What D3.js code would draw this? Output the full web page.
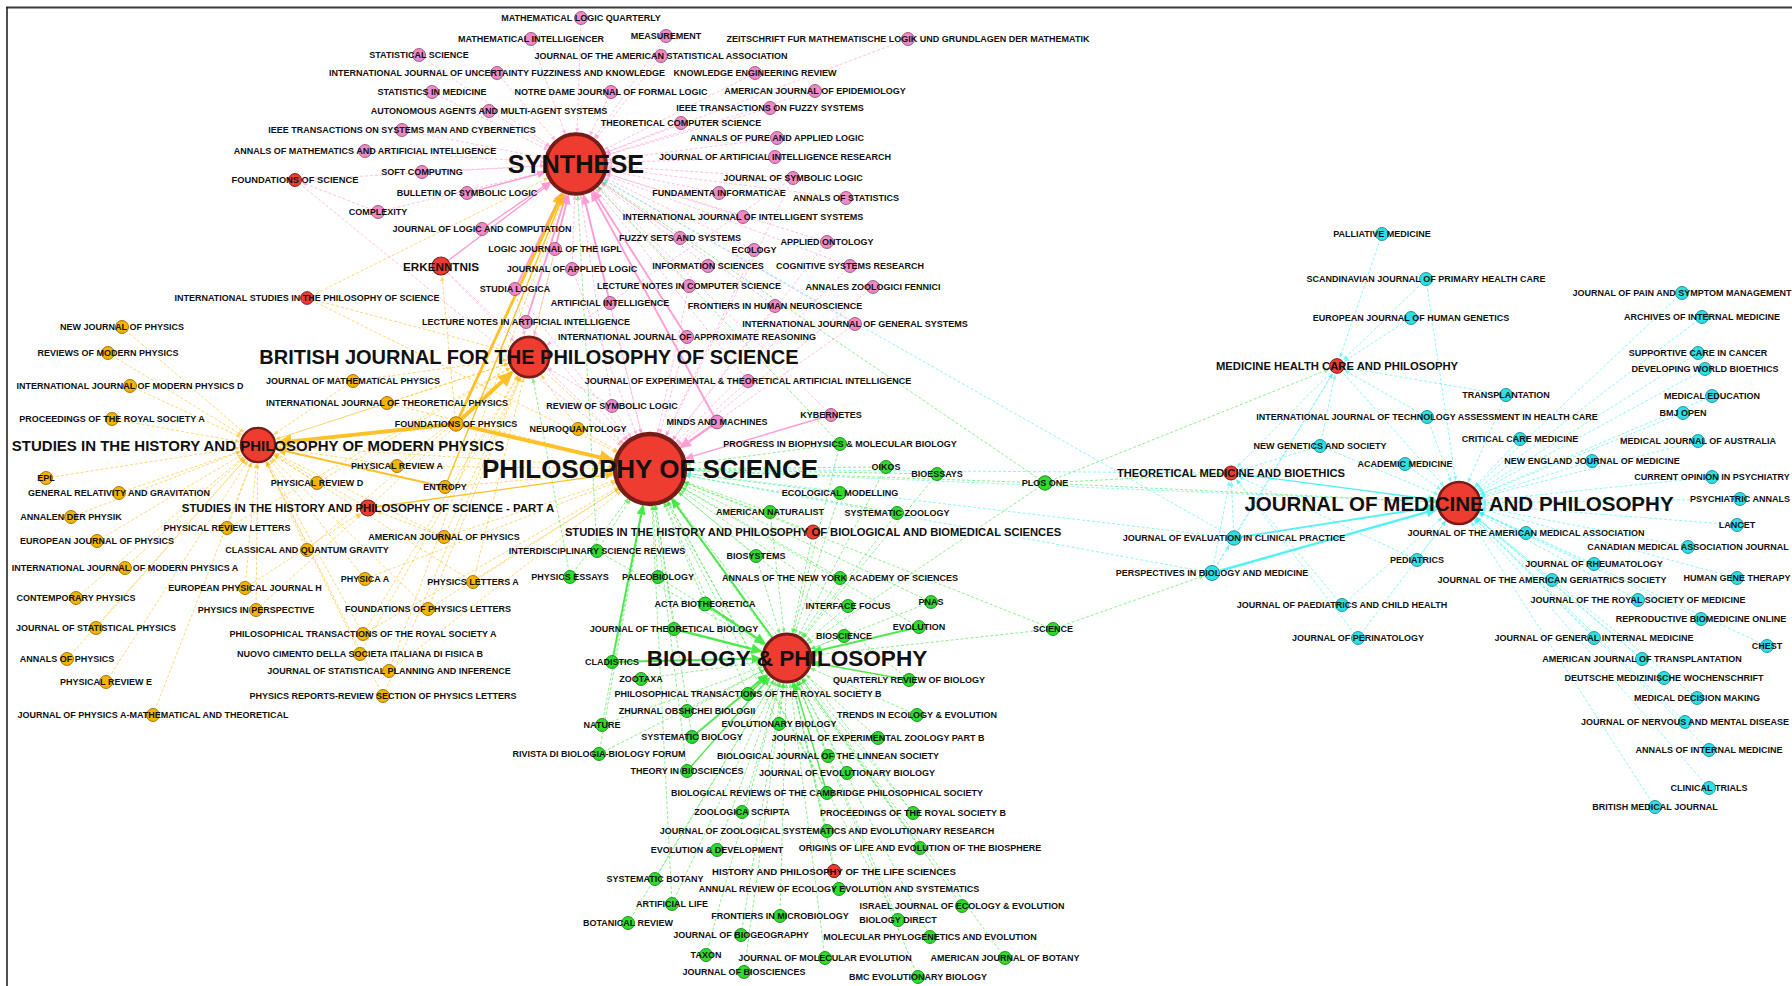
<!DOCTYPE html>
<html>
<head>
<meta charset="utf-8">
<script src="https://cdn.jsdelivr.net/npm/d3@7"></script>
<style>
  body { margin: 0; background: #fff; }
  text { font-family: "Liberation Sans", Arial, sans-serif; font-weight: bold; fill: #111; }
</style>
</head>
<body>
<div id="container"></div>
<script>

var W = 1792, H = 986;

//  hub journals : id, label, edge colour cluster, layout x, layout y, weight
var hubJournals = [
    ["PoS", "PHILOSOPHY OF SCIENCE", "physics", 650, 469, 100],
    ["SYN", "SYNTHESE", "logic", 576, 164, 73],
    ["BP", "BIOLOGY & PHILOSOPHY", "biology", 787, 658, 47],
    ["JMP", "JOURNAL OF MEDICINE AND PHILOSOPHY", "medicine", 1459, 503, 36],
    ["BJPS", "BRITISH JOURNAL FOR THE PHILOSOPHY OF SCIENCE", "physics", 529, 357, 33],
    ["SHPMP", "STUDIES IN THE HISTORY AND PHILOSOPHY OF MODERN PHYSICS", "physics", 258, 445, 24],
    ["ERK", "ERKENNTNIS", "logic", 441, 266, 6.6],
    ["SHPSA", "STUDIES IN THE HISTORY AND PHILOSOPHY OF SCIENCE - PART A", "physics", 368, 508, 5.2],
    ["FOS", "FOUNDATIONS OF SCIENCE", "logic", 295, 180, 3.4],
    ["ISPS", "INTERNATIONAL STUDIES IN THE PHILOSOPHY OF SCIENCE", "physics", 307, 298, 3.3],
    ["MHCP", "MEDICINE HEALTH CARE AND PHILOSOPHY", "medicine", 1337, 366, 4.4],
    ["TMB", "THEORETICAL MEDICINE AND BIOETHICS", "medicine", 1231, 473, 4],
    ["SHPBBS", "STUDIES IN THE HISTORY AND PHILOSOPHY OF BIOLOGICAL AND BIOMEDICAL SCIENCES", "biology", 813, 532, 4],
    ["HPLS", "HISTORY AND PHILOSOPHY OF THE LIFE SCIENCES", "biology", 834, 871, 3.5]
];

//  citing journals : label, layout x, layout y, cited journals (weight 1), optional node weight
var logicJournals = [
    ["MATHEMATICAL LOGIC QUARTERLY", 581, 18, ["SYN"]],
    ["MATHEMATICAL INTELLIGENCER", 531, 39, ["SYN"]],
    ["MEASUREMENT", 666, 36, ["SYN"]],
    ["ZEITSCHRIFT FUR MATHEMATISCHE LOGIK UND GRUNDLAGEN DER MATHEMATIK", 908, 39, ["SYN"]],
    ["STATISTICAL SCIENCE", 419, 55, ["SYN"]],
    ["JOURNAL OF THE AMERICAN STATISTICAL ASSOCIATION", 661, 56, ["SYN"]],
    ["INTERNATIONAL JOURNAL OF UNCERTAINTY FUZZINESS AND KNOWLEDGE", 497, 73, ["SYN"]],
    ["KNOWLEDGE ENGINEERING REVIEW", 755, 73, ["SYN"]],
    ["STATISTICS IN MEDICINE", 432, 92, ["SYN"]],
    ["NOTRE DAME JOURNAL OF FORMAL LOGIC", 611, 92, ["SYN"]],
    ["AMERICAN JOURNAL OF EPIDEMIOLOGY", 815, 91, ["SYN"]],
    ["AUTONOMOUS AGENTS AND MULTI-AGENT SYSTEMS", 489, 111, ["SYN"]],
    ["IEEE TRANSACTIONS ON FUZZY SYSTEMS", 770, 108, ["SYN"]],
    ["THEORETICAL COMPUTER SCIENCE", 681, 123, ["SYN"]],
    ["IEEE TRANSACTIONS ON SYSTEMS MAN AND CYBERNETICS", 402, 130, ["SYN"]],
    ["ANNALS OF PURE AND APPLIED LOGIC", 777, 138, ["SYN"]],
    ["ANNALS OF MATHEMATICS AND ARTIFICIAL INTELLIGENCE", 365, 151, ["SYN"]],
    ["JOURNAL OF ARTIFICIAL INTELLIGENCE RESEARCH", 775, 157, ["SYN"]],
    ["SOFT COMPUTING", 422, 172, ["SYN"]],
    ["JOURNAL OF SYMBOLIC LOGIC", 793, 178, ["SYN", "PoS", "BJPS"]],
    ["BULLETIN OF SYMBOLIC LOGIC", 467, 193, []],
    ["FUNDAMENTA INFORMATICAE", 719, 193, ["SYN"]],
    ["ANNALS OF STATISTICS", 846, 198, ["SYN"]],
    ["COMPLEXITY", 378, 212, ["SYN", "FOS"]],
    ["INTERNATIONAL JOURNAL OF INTELLIGENT SYSTEMS", 743, 217, ["SYN"]],
    ["JOURNAL OF LOGIC AND COMPUTATION", 482, 229, []],
    ["FUZZY SETS AND SYSTEMS", 680, 238, ["SYN"]],
    ["APPLIED ONTOLOGY", 827, 242, ["SYN", "PoS"]],
    ["LOGIC JOURNAL OF THE IGPL", 555, 249, ["BJPS"]],
    ["ECOLOGY", 754, 250, ["SYN", "PoS"]],
    ["JOURNAL OF APPLIED LOGIC", 572, 269, ["SYN", "PoS"]],
    ["INFORMATION SCIENCES", 708, 266, ["SYN"]],
    ["COGNITIVE SYSTEMS RESEARCH", 850, 266, ["SYN", "PoS"]],
    ["LECTURE NOTES IN COMPUTER SCIENCE", 689, 286, ["SYN", "PoS"]],
    ["ANNALES ZOOLOGICI FENNICI", 873, 287, ["PoS"]],
    ["STUDIA LOGICA", 515, 289, ["BJPS", "PoS"]],
    ["ARTIFICIAL INTELLIGENCE", 610, 303, ["PoS"]],
    ["FRONTIERS IN HUMAN NEUROSCIENCE", 775, 306, ["SYN", "PoS"]],
    ["LECTURE NOTES IN ARTIFICIAL INTELLIGENCE", 526, 322, ["PoS"]],
    ["INTERNATIONAL JOURNAL OF GENERAL SYSTEMS", 855, 324, ["SYN", "PoS"]],
    ["INTERNATIONAL JOURNAL OF APPROXIMATE REASONING", 687, 337, ["PoS"]],
    ["JOURNAL OF EXPERIMENTAL & THEORETICAL ARTIFICIAL INTELLIGENCE", 748, 381, ["SYN", "PoS"]],
    ["REVIEW OF SYMBOLIC LOGIC", 612, 406, ["SYN", "PoS", "BJPS"]],
    ["KYBERNETES", 831, 415, ["SYN"]],
    ["MINDS AND MACHINES", 717, 422, [], 3.8]
];

var physicsJournals = [
    ["NEW JOURNAL OF PHYSICS", 122, 327, ["SHPMP"]],
    ["REVIEWS OF MODERN PHYSICS", 108, 353, ["SHPMP"]],
    ["JOURNAL OF MATHEMATICAL PHYSICS", 353, 381, ["SHPMP", "BJPS"]],
    ["INTERNATIONAL JOURNAL OF MODERN PHYSICS D", 130, 386, ["SHPMP"]],
    ["INTERNATIONAL JOURNAL OF THEORETICAL PHYSICS", 387, 403, ["SHPMP", "BJPS", "PoS"]],
    ["PROCEEDINGS OF THE ROYAL SOCIETY A", 112, 419, ["SHPMP"]],
    ["FOUNDATIONS OF PHYSICS", 456, 424, ["ERK"], 4.2],
    ["NEUROQUANTOLOGY", 578, 429, ["PoS", "BJPS"]],
    ["PHYSICAL REVIEW A", 397, 466, ["SHPMP", "PoS", "BJPS"]],
    ["EPL", 46, 478, ["SHPMP"]],
    ["PHYSICAL REVIEW D", 317, 483, ["SHPMP", "BJPS"]],
    ["ENTROPY", 445, 487, ["PoS"]],
    ["GENERAL RELATIVITY AND GRAVITATION", 119, 493, ["SHPMP"]],
    ["ANNALEN DER PHYSIK", 71, 517, ["SHPMP"]],
    ["PHYSICAL REVIEW LETTERS", 227, 528, ["SHPMP", "BJPS"]],
    ["AMERICAN JOURNAL OF PHYSICS", 444, 537, ["SHPMP", "SHPSA", "PoS", "BJPS"]],
    ["EUROPEAN JOURNAL OF PHYSICS", 97, 541, ["SHPMP"]],
    ["CLASSICAL AND QUANTUM GRAVITY", 307, 550, ["SHPMP", "BJPS"]],
    ["INTERNATIONAL JOURNAL OF MODERN PHYSICS A", 125, 568, ["SHPMP"]],
    ["PHYSICA A", 365, 579, ["SHPMP", "PoS"]],
    ["PHYSICS LETTERS A", 473, 582, ["SHPMP", "BJPS", "PoS"]],
    ["EUROPEAN PHYSICAL JOURNAL H", 245, 588, ["SHPMP", "SHPSA"]],
    ["CONTEMPORARY PHYSICS", 76, 598, ["SHPMP"]],
    ["FOUNDATIONS OF PHYSICS LETTERS", 428, 609, ["SHPMP", "BJPS", "PoS"]],
    ["PHYSICS IN PERSPECTIVE", 256, 610, ["SHPMP", "SHPSA"]],
    ["JOURNAL OF STATISTICAL PHYSICS", 96, 628, ["SHPMP"]],
    ["PHILOSOPHICAL TRANSACTIONS OF THE ROYAL SOCIETY A", 363, 634, ["SHPMP", "BJPS", "PoS"]],
    ["NUOVO CIMENTO DELLA SOCIETA ITALIANA DI FISICA B", 360, 654, ["SHPMP", "BJPS"]],
    ["ANNALS OF PHYSICS", 67, 659, ["SHPMP"]],
    ["JOURNAL OF STATISTICAL PLANNING AND INFERENCE", 389, 671, ["PoS", "SYN"]],
    ["PHYSICAL REVIEW E", 106, 682, ["SHPMP"]],
    ["PHYSICS REPORTS-REVIEW SECTION OF PHYSICS LETTERS", 383, 696, ["SHPMP", "BJPS"]],
    ["JOURNAL OF PHYSICS A-MATHEMATICAL AND THEORETICAL", 153, 715, ["SHPMP"]]
];

var biologyJournals = [
    ["PROGRESS IN BIOPHYSICS & MOLECULAR BIOLOGY", 840, 444, ["PoS", "BP", "SYN"]],
    ["OIKOS", 886, 467, ["PoS", "BP"]],
    ["BIOESSAYS", 937, 474, ["PoS", "BP"]],
    ["PLOS ONE", 1045, 483, ["PoS", "BP", "SYN", "JMP", "MHCP", "TMB"], 4.2],
    ["ECOLOGICAL MODELLING", 840, 493, ["PoS", "BP"]],
    ["AMERICAN NATURALIST", 770, 512, ["PoS", "BP"]],
    ["SYSTEMATIC ZOOLOGY", 897, 513, ["PoS", "BP"]],
    ["INTERDISCIPLINARY SCIENCE REVIEWS", 597, 551, ["PoS", "BP", "SYN"]],
    ["BIOSYSTEMS", 756, 556, ["PoS", "BP"]],
    ["PHYSICS ESSAYS", 570, 577, ["PoS", "BJPS"]],
    ["PALEOBIOLOGY", 658, 577, ["PoS", "BP"]],
    ["ANNALS OF THE NEW YORK ACADEMY OF SCIENCES", 840, 578, ["PoS", "BP"]],
    ["PNAS", 931, 602, ["PoS", "BP"]],
    ["ACTA BIOTHEORETICA", 705, 604, ["PoS"], 3.8],
    ["INTERFACE FOCUS", 848, 606, ["PoS", "BP"]],
    ["EVOLUTION", 919, 627, []],
    ["JOURNAL OF THEORETICAL BIOLOGY", 674, 629, ["PoS"]],
    ["SCIENCE", 1053, 629, ["BP", "PoS", "PERSPECTIVES IN BIOLOGY AND MEDICINE"]],
    ["BIOSCIENCE", 844, 636, ["BP"]],
    ["CLADISTICS", 612, 662, []],
    ["ZOOTAXA", 641, 679, ["BP"]],
    ["QUARTERLY REVIEW OF BIOLOGY", 909, 680, ["PoS"]],
    ["PHILOSOPHICAL TRANSACTIONS OF THE ROYAL SOCIETY B", 748, 694, ["PoS"]],
    ["ZHURNAL OBSHCHEI BIOLOGII", 687, 711, ["BP"]],
    ["TRENDS IN ECOLOGY & EVOLUTION", 917, 715, ["BP"]],
    ["EVOLUTIONARY BIOLOGY", 779, 724, ["BP", "PoS"]],
    ["NATURE", 602, 725, ["BP", "PoS"]],
    ["SYSTEMATIC BIOLOGY", 692, 737, ["PoS"]],
    ["JOURNAL OF EXPERIMENTAL ZOOLOGY PART B", 878, 738, ["BP"]],
    ["RIVISTA DI BIOLOGIA-BIOLOGY FORUM", 599, 754, ["BP", "PoS"]],
    ["BIOLOGICAL JOURNAL OF THE LINNEAN SOCIETY", 828, 756, ["BP"]],
    ["THEORY IN BIOSCIENCES", 687, 771, ["PoS"]],
    ["JOURNAL OF EVOLUTIONARY BIOLOGY", 847, 773, ["BP"]],
    ["BIOLOGICAL REVIEWS OF THE CAMBRIDGE PHILOSOPHICAL SOCIETY", 827, 793, ["PoS"]],
    ["ZOOLOGICA SCRIPTA", 742, 812, ["BP"]],
    ["PROCEEDINGS OF THE ROYAL SOCIETY B", 913, 813, ["BP", "PoS"]],
    ["JOURNAL OF ZOOLOGICAL SYSTEMATICS AND EVOLUTIONARY RESEARCH", 827, 831, ["BP"]],
    ["EVOLUTION & DEVELOPMENT", 717, 850, ["BP"]],
    ["ORIGINS OF LIFE AND EVOLUTION OF THE BIOSPHERE", 920, 848, ["BP", "PoS"]],
    ["SYSTEMATIC BOTANY", 655, 879, ["BP"]],
    ["ANNUAL REVIEW OF ECOLOGY EVOLUTION AND SYSTEMATICS", 839, 889, ["BP"]],
    ["ARTIFICIAL LIFE", 672, 904, ["BP", "PoS"]],
    ["ISRAEL JOURNAL OF ECOLOGY & EVOLUTION", 962, 906, ["BP"]],
    ["FRONTIERS IN MICROBIOLOGY", 780, 916, ["BP"]],
    ["BIOLOGY DIRECT", 898, 920, ["BP", "PoS"]],
    ["BOTANICAL REVIEW", 628, 923, ["BP"]],
    ["JOURNAL OF BIOGEOGRAPHY", 741, 935, ["BP"]],
    ["MOLECULAR PHYLOGENETICS AND EVOLUTION", 930, 937, ["BP"]],
    ["TAXON", 706, 955, ["BP"]],
    ["JOURNAL OF MOLECULAR EVOLUTION", 825, 958, ["BP"]],
    ["AMERICAN JOURNAL OF BOTANY", 1005, 958, ["BP"]],
    ["JOURNAL OF BIOSCIENCES", 744, 972, ["BP"]],
    ["BMC EVOLUTIONARY BIOLOGY", 918, 977, ["BP"]]
];

var medicineJournals = [
    ["PALLIATIVE MEDICINE", 1382, 234, ["MHCP"]],
    ["SCANDINAVIAN JOURNAL OF PRIMARY HEALTH CARE", 1426, 279, ["MHCP", "JMP"]],
    ["JOURNAL OF PAIN AND SYMPTOM MANAGEMENT", 1682, 293, ["JMP"]],
    ["ARCHIVES OF INTERNAL MEDICINE", 1702, 317, ["JMP"]],
    ["EUROPEAN JOURNAL OF HUMAN GENETICS", 1411, 318, ["MHCP"]],
    ["SUPPORTIVE CARE IN CANCER", 1698, 353, ["JMP"]],
    ["DEVELOPING WORLD BIOETHICS", 1705, 369, ["JMP"]],
    ["TRANSPLANTATION", 1506, 395, ["JMP", "MHCP"]],
    ["MEDICAL EDUCATION", 1712, 396, ["JMP"]],
    ["BMJ OPEN", 1683, 413, ["JMP"]],
    ["INTERNATIONAL JOURNAL OF TECHNOLOGY ASSESSMENT IN HEALTH CARE", 1427, 417, ["JMP", "MHCP"]],
    ["CRITICAL CARE MEDICINE", 1520, 439, ["JMP"]],
    ["MEDICAL JOURNAL OF AUSTRALIA", 1698, 441, ["JMP"]],
    ["NEW GENETICS AND SOCIETY", 1320, 446, ["JMP", "TMB", "MHCP"]],
    ["NEW ENGLAND JOURNAL OF MEDICINE", 1592, 461, ["JMP"]],
    ["ACADEMIC MEDICINE", 1405, 464, ["JMP"]],
    ["CURRENT OPINION IN PSYCHIATRY", 1712, 477, ["JMP"]],
    ["PSYCHIATRIC ANNALS", 1740, 499, ["JMP"]],
    ["LANCET", 1737, 525, ["JMP"]],
    ["JOURNAL OF THE AMERICAN MEDICAL ASSOCIATION", 1526, 533, ["JMP"]],
    ["JOURNAL OF EVALUATION IN CLINICAL PRACTICE", 1234, 538, ["TMB", "MHCP", "PoS", "SYN"], 4.2],
    ["CANADIAN MEDICAL ASSOCIATION JOURNAL", 1688, 547, ["JMP"]],
    ["PEDIATRICS", 1417, 560, ["JMP", "TMB"]],
    ["JOURNAL OF RHEUMATOLOGY", 1594, 564, ["JMP"]],
    ["PERSPECTIVES IN BIOLOGY AND MEDICINE", 1212, 573, ["TMB", "PoS", "MHCP", "JOURNAL OF EVALUATION IN CLINICAL PRACTICE"], 4.6],
    ["HUMAN GENE THERAPY", 1737, 578, ["JMP"]],
    ["JOURNAL OF THE AMERICAN GERIATRICS SOCIETY", 1552, 580, ["JMP"]],
    ["JOURNAL OF THE ROYAL SOCIETY OF MEDICINE", 1638, 600, ["JMP"]],
    ["JOURNAL OF PAEDIATRICS AND CHILD HEALTH", 1342, 605, ["JMP", "TMB"]],
    ["REPRODUCTIVE BIOMEDICINE ONLINE", 1701, 619, ["JMP"]],
    ["JOURNAL OF PERINATOLOGY", 1358, 638, ["JMP", "TMB"]],
    ["JOURNAL OF GENERAL INTERNAL MEDICINE", 1594, 638, ["JMP"]],
    ["CHEST", 1767, 646, ["JMP"]],
    ["AMERICAN JOURNAL OF TRANSPLANTATION", 1642, 659, ["JMP"]],
    ["DEUTSCHE MEDIZINISCHE WOCHENSCHRIFT", 1664, 678, ["JMP"]],
    ["MEDICAL DECISION MAKING", 1697, 698, ["JMP"]],
    ["JOURNAL OF NERVOUS AND MENTAL DISEASE", 1685, 722, ["JMP"]],
    ["ANNALS OF INTERNAL MEDICINE", 1709, 750, ["JMP"]],
    ["CLINICAL TRIALS", 1709, 788, ["JMP"]],
    ["BRITISH MEDICAL JOURNAL", 1655, 807, ["JMP"]]
];

//  weighted citation links : source, target, weight
var strongLinks = [
    ["FOUNDATIONS OF PHYSICS", "SHPMP", 4],
    ["FOUNDATIONS OF PHYSICS", "BJPS", 4],
    ["FOUNDATIONS OF PHYSICS", "PoS", 4],
    ["FOUNDATIONS OF PHYSICS", "SYN", 3],
    ["ENTROPY", "SHPMP", 2],
    ["ENTROPY", "SYN", 1.5],
    ["SHPSA", "PoS", 1.5],
    ["SHPSA", "SHPMP", 1],
    ["SHPSA", "BJPS", 1],
    ["SHPMP", "BJPS", 1],
    ["SHPMP", "PoS", 1],
    ["BJPS", "PoS", 1],
    ["BJPS", "SYN", 1],
    ["SYN", "PoS", 1],
    ["ISPS", "BJPS", 1],
    ["ISPS", "PoS", 1],
    ["ISPS", "SYN", 1],
    ["ERK", "SYN", 1.5],
    ["ERK", "BJPS", 1],
    ["ERK", "PoS", 1],
    ["FOS", "SYN", 1],
    ["FOS", "PoS", 1],
    ["MINDS AND MACHINES", "PoS", 2.5],
    ["MINDS AND MACHINES", "SYN", 2],
    ["KYBERNETES", "PoS", 1.5],
    ["STUDIA LOGICA", "SYN", 2],
    ["LOGIC JOURNAL OF THE IGPL", "SYN", 2],
    ["LECTURE NOTES IN ARTIFICIAL INTELLIGENCE", "SYN", 2],
    ["ARTIFICIAL INTELLIGENCE", "SYN", 2],
    ["INTERNATIONAL JOURNAL OF APPROXIMATE REASONING", "SYN", 2],
    ["JOURNAL OF LOGIC AND COMPUTATION", "SYN", 1.5],
    ["BULLETIN OF SYMBOLIC LOGIC", "SYN", 1.5],
    ["ACTA BIOTHEORETICA", "BP", 2.5],
    ["JOURNAL OF THEORETICAL BIOLOGY", "BP", 2.5],
    ["CLADISTICS", "BP", 2],
    ["CLADISTICS", "PoS", 2],
    ["PHILOSOPHICAL TRANSACTIONS OF THE ROYAL SOCIETY B", "BP", 2],
    ["SYSTEMATIC BIOLOGY", "BP", 2],
    ["THEORY IN BIOSCIENCES", "BP", 1.5],
    ["BIOLOGICAL REVIEWS OF THE CAMBRIDGE PHILOSOPHICAL SOCIETY", "BP", 1.5],
    ["QUARTERLY REVIEW OF BIOLOGY", "BP", 1.5],
    ["EVOLUTION", "BP", 2],
    ["EVOLUTION", "PoS", 1],
    ["BP", "PoS", 2],
    ["SHPBBS", "BP", 1],
    ["SHPBBS", "PoS", 1],
    ["HPLS", "BP", 1],
    ["PERSPECTIVES IN BIOLOGY AND MEDICINE", "JMP", 2.5],
    ["JOURNAL OF EVALUATION IN CLINICAL PRACTICE", "JMP", 2],
    ["MHCP", "JMP", 1],
    ["MHCP", "TMB", 1],
    ["TMB", "JMP", 1.5],
    ["TMB", "PoS", 1],
    ["JMP", "PoS", 1]
];

var clusterFill = {logic: "#f08ac6", physics: "#f5b400", biology: "#2ddc2d", medicine: "#2ee0e6"};
var clusterEdge = {logic: "#ff93cf", physics: "#ffba12", biology: "#3ae63a", medicine: "#3ff0f2"};
var hubFill = "#ee3c30";
var hubStroke = "#781c18";
var smallWeight = 3.4;

var x = d3.scaleLinear().domain([0, 1792]).range([0, W]);
var y = d3.scaleLinear().domain([0, 986]).range([0, H]);
var radius = d3.scaleSqrt().domain([0, 100]).range([0, 35]);
var hubFont = d3.scaleLinear()
    .domain([3.3, 4, 24, 33, 60, 100])
    .range([9, 11.2, 15, 20, 25, 26])
    .clamp(true);

//  build node table
var nodes = [];
var byId = {};

hubJournals.forEach(function(d) {
    var n = {id: d[0], name: d[1], cluster: d[2], hub: true, lx: d[3], ly: d[4], w: d[5], cites: []};
    nodes.push(n);
    byId[n.id] = n;
});

[[logicJournals, "logic"], [physicsJournals, "physics"], [biologyJournals, "biology"], [medicineJournals, "medicine"]].forEach(function(g) {
    g[0].forEach(function(d) {
        var n = {id: d[0], name: d[0], cluster: g[1], hub: false, lx: d[1], ly: d[2], w: d[4] || smallWeight, cites: d[3]};
        nodes.push(n);
        byId[n.id] = n;
    });
});

var links = [];
nodes.forEach(function(n) {
    n.cites.forEach(function(t) {
        links.push({source: n, target: byId[t], w: 1});
    });
});
strongLinks.forEach(function(d) {
    links.push({source: byId[d[0]], target: byId[d[1]], w: d[2]});
});
links.sort(function(a, b) { return a.w - b.w; });

var svg = d3.select("#container")
    .append("svg")
    .attr("width", W)
    .attr("height", H)
    .style("display", "block");

svg.append("rect").attr("width", W).attr("height", H).attr("fill", "#fff");

//  frame lines (the picture is cropped on the right and bottom)
svg.append("line").attr("x1", 6).attr("x2", W).attr("y1", 7.5).attr("y2", 7.5)
    .attr("stroke", "#3a3a3a").attr("stroke-width", 2);
svg.append("line").attr("x1", 7).attr("x2", 7).attr("y1", 7).attr("y2", H)
    .attr("stroke", "#222").attr("stroke-width", 1.6);

var edgeG = svg.append("g");

links.forEach(function(l) {

    var sx = x(l.source.lx), sy = y(l.source.ly);
    var tx = x(l.target.lx), ty = y(l.target.ly);
    var dx = tx - sx, dy = ty - sy;
    var len = Math.sqrt(dx * dx + dy * dy);
    var ux = dx / len, uy = dy / len;
    var rt = radius(l.target.w) + 1;
    var ex = tx - ux * rt, ey = ty - uy * rt;

    var col = clusterEdge[l.source.cluster];
    var thin = l.w < 1.5;
    var sw = thin ? 0.9 : l.w * 0.95;
    var op = thin ? 0.65 : 0.9;

    var al = thin ? 5 : 5 + l.w * 2.6;
    var aw = thin ? 2 : 2 + l.w * 1.3;
    var bx = ex - ux * al, by = ey - uy * al;

    edgeG.append("line")
        .attr("x1", sx).attr("y1", sy)
        .attr("x2", bx).attr("y2", by)
        .attr("stroke", col)
        .attr("stroke-width", sw)
        .attr("stroke-opacity", op)
        .attr("stroke-dasharray", thin ? "3,2" : null);

    edgeG.append("path")
        .attr("d", "M" + ex + "," + ey +
            "L" + (bx - uy * aw) + "," + (by + ux * aw) +
            "L" + (bx + uy * aw) + "," + (by - ux * aw) + "Z")
        .attr("fill", col)
        .attr("fill-opacity", op);
});

var ordered = nodes.slice().sort(function(a, b) { return a.w - b.w; });

svg.append("g").selectAll("circle")
    .data(ordered)
    .enter()
    .append("circle")
    .attr("cx", function(d) { return x(d.lx); })
    .attr("cy", function(d) { return y(d.ly); })
    .attr("r", function(d) { return radius(d.w); })
    .attr("fill", function(d) { return d.hub ? hubFill : clusterFill[d.cluster]; })
    .attr("stroke", function(d) {
        return d.hub ? hubStroke : d3.color(clusterFill[d.cluster]).darker(1.2);
    })
    .attr("stroke-width", function(d) { return d.hub ? Math.max(1, radius(d.w) * 0.13) : 1; });

svg.append("g").selectAll("text")
    .data(ordered)
    .enter()
    .append("text")
    .attr("x", function(d) { return x(d.lx); })
    .attr("y", function(d) { return y(d.ly); })
    .attr("text-anchor", "middle")
    .attr("dominant-baseline", "central")
    .attr("font-size", function(d) { return d.hub ? hubFont(d.w) : 9; })
    .text(function(d) { return d.name; });

</script>
</body>
</html>
